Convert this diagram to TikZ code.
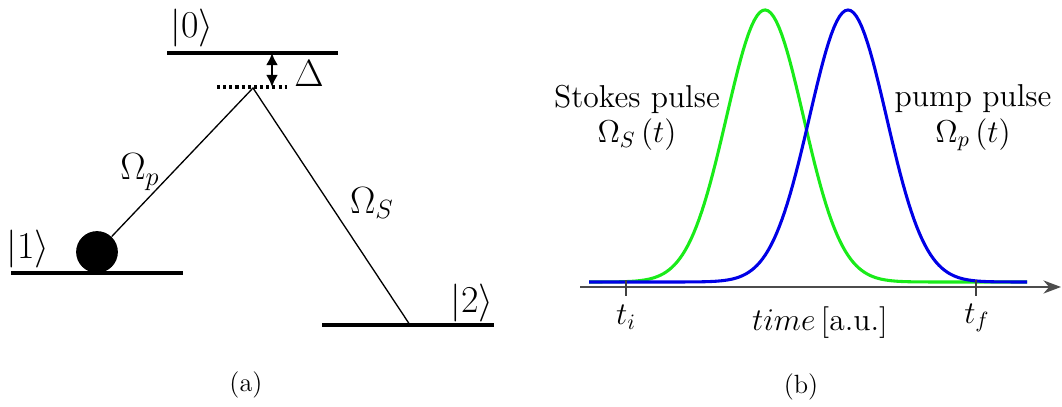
\documentclass[tikz,border=0pt]{standalone}
\usepackage{amsmath}
\usetikzlibrary{arrows.meta,positioning}
\definecolor{StokesGreen}{RGB}{25,235,25}
\definecolor{PumpBlue}{RGB}{0,0,230}
\tikzset{
  level/.style={line width=1.4pt},
  ket/.style={font=\fontsize{19}{22}\selectfont},
  big/.style={font=\fontsize{18.5}{22}\selectfont},
  lbl/.style={font=\Large},
  pulse/.style={line width=1.4pt,domain=589:1027,samples=160},
}

\begin{document}
\begin{tikzpicture}[x=0.455pt,y=-0.455pt,>=Latex]
      \useasboundingbox (0,0) rectangle (1062,407);
      % (a) levels
      \draw[level] (167,53)--(338,53);
      \draw[level] (11,273)--(183,273);
      \draw[level] (322,325)--(494,325);
      \draw[line width=1.4pt,dash pattern=on 1.4pt off 1.4pt] (217,87)--(287,87);
      \coordinate (top) at (272,53);
      \coordinate (virt) at (272,87);
      \coordinate (apex) at (253,88);
      \coordinate (low2) at (410,325);
      \node[ket] (k0) at (192,28) {$|0\rangle$};
      \node[ket] (k1) at (28,249) {$|1\rangle$};
      \node[ket] (k2) at (472,303) {$|2\rangle$};
      \node[big] (det) at (309,74) {$\Delta$};
      \node[circle,fill,inner sep=0pt,minimum size=19pt] (ball) at (97,252) {};
      \draw[{Latex[length=5.5pt,width=5.5pt]}-{Latex[length=5.5pt,width=5.5pt]},line width=1.2pt] (top)--(virt);
      \draw[line width=0.6pt] (ball)--(apex)--(low2);
      \node[font=\fontsize{17}{20}\selectfont] (op) at (140,172) {$\Omega_p$};
      \node[big] (os) at (372,203) {$\Omega_S$};
      \node[font=\large] (capa) at (246,385) {(a)};
      % (b) pulses
      \coordinate (ax0) at (580,287);
      \coordinate (ax1) at (1061,287);
      \draw[-{Stealth[length=8pt,width=6pt]},line width=0.7pt,black!70] (ax0)--(ax1);
      \draw[pulse,StokesGreen] plot (\x,{282-272*exp(-0.5*((\x-765)/38.5)^2)});
      \draw[pulse,PumpBlue] plot (\x,{282-272*exp(-0.5*((\x-848)/38.5)^2)});
      \draw[line width=0.6pt,black!75] (626,280)--(626,296);
      \draw[line width=0.6pt,black!75] (976,280)--(976,296);
      \node[lbl] (ti) at (626,317) {$t_i$};
      \node[lbl] (tf) at (977,318) {$t_f$};
      \node[lbl] (tlab) at (820,323) {$time\,[\text{a.u.}]$};
      \node[lbl,align=center] (stokes) at (637,118) {Stokes pulse\\[-2pt]$\Omega_S\left(t\right)$};
      \node[lbl,align=center] (pump) at (973,118) {pump pulse\\[-2pt]$\Omega_p\left(t\right)$};
      \node[font=\large] (capb) at (801,387) {(b)};
    \end{tikzpicture}
\end{document}
